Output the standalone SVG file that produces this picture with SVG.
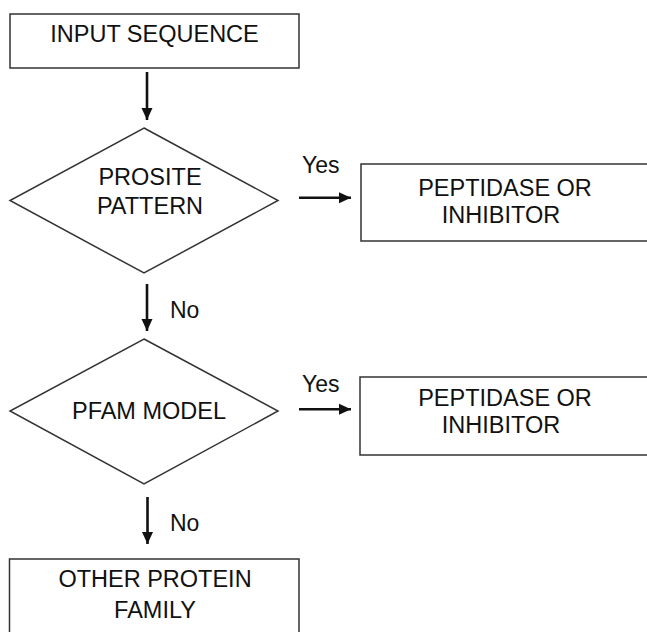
<svg xmlns="http://www.w3.org/2000/svg" width="647" height="632" viewBox="0 0 647 632">
<style>
.box{fill:#fff;stroke:#333;stroke-width:1.5}
.t{font-family:"Liberation Sans",Arial,sans-serif;font-size:23.5px;fill:#111;text-anchor:middle}
.lbl{font-family:"Liberation Sans",Arial,sans-serif;font-size:23px;fill:#111}
.arr{stroke:#111;stroke-width:2.6;fill:none;marker-end:url(#ah)}
</style>
<defs>
<marker id="ah" markerUnits="userSpaceOnUse" markerWidth="12" markerHeight="12" viewBox="0 0 12 12" refX="12" refY="6" orient="auto">
<path d="M0,0.5 L12,6 L0,11.5 Z" fill="#111"/>
</marker>
</defs>
<rect width="647" height="632" fill="#fff"/>
<g id="input">
<rect class="box" x="10" y="14" width="289" height="54"/>
<text class="t" x="154.5" y="42">INPUT SEQUENCE</text>
</g>
<g id="prosite">
<polygon class="box" points="144,128 278,200.5 144,273 10,200.5"/>
<text class="t" x="150" y="185">PROSITE</text>
<text class="t" x="150" y="214">PATTERN</text>
</g>
<g id="result1">
<rect class="box" x="361" y="164" width="300" height="77"/>
<text class="t" x="505" y="196">PEPTIDASE OR</text>
<text class="t" x="501" y="223">INHIBITOR</text>
</g>
<g id="pfam">
<polygon class="box" points="144,339 278,411 144,484 10,411"/>
<text class="t" x="149" y="419">PFAM MODEL</text>
</g>
<g id="result2">
<rect class="box" x="360" y="377" width="300" height="78"/>
<text class="t" x="505" y="406">PEPTIDASE OR</text>
<text class="t" x="501" y="433">INHIBITOR</text>
</g>
<g id="other">
<rect class="box" x="9.5" y="559" width="289.5" height="90"/>
<text class="t" x="155" y="587">OTHER PROTEIN</text>
<text class="t" x="155" y="618">FAMILY</text>
</g>
<g id="connectors">
<line class="arr" x1="147" y1="72" x2="147" y2="120"/>
<line class="arr" x1="299" y1="197.7" x2="351" y2="197.7"/>
<text class="lbl" x="302" y="173">Yes</text>
<line class="arr" x1="147" y1="284" x2="147" y2="331"/>
<text class="lbl" x="170" y="318">No</text>
<line class="arr" x1="299" y1="409.3" x2="351" y2="409.3"/>
<text class="lbl" x="302" y="392">Yes</text>
<line class="arr" x1="147.5" y1="497" x2="147.5" y2="544"/>
<text class="lbl" x="170" y="531">No</text>
</g>
</svg>
